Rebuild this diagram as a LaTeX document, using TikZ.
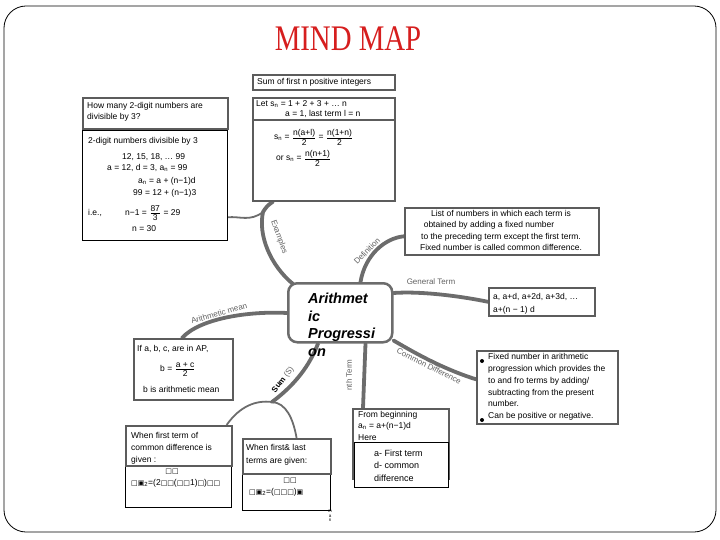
\documentclass[tikz,border=0pt]{standalone}
\usepackage{amsmath}
\usepackage{fontspec}
\setmainfont{Liberation Sans}
\newfontfamily\ttlfont{Liberation Serif}
\newfontfamily\symfnt{DejaVu Sans}
\usetikzlibrary{backgrounds}
\definecolor{brgray}{RGB}{108,108,108}
\definecolor{bxgray}{RGB}{92,92,92}
\definecolor{ttlred}{RGB}{214,30,30}
\newcommand{\myfr}[2]{\ensuremath{\genfrac{}{}{0.8pt}{}{\mbox{#1}}{\mbox{#2}}}}
\newcommand{\tf}[1]{{\symfnt\fontsize{7}{8}\selectfont #1}}
\begin{document}
\begin{tikzpicture}[x=1pt,y=-1pt,
 gbox/.style={draw=bxgray,line width=1.6pt,fill=white,inner sep=0,anchor=north west},
 bbox/.style={draw=black,line width=0.6pt,fill=white,inner sep=0,anchor=north west},
 tx/.style={font=\fontsize{8.5}{10}\selectfont,inner sep=0,anchor=base west},
 txc/.style={tx,anchor=base},
 branch/.style={draw=brgray,line width=3.8pt,line cap=round},
 twig/.style={draw=brgray,line width=1.8pt},
 blab/.style={font=\fontsize{8}{9}\selectfont,text=black!62,inner sep=0}]

\useasboundingbox (0,0) rectangle (720,540);

% title
\node[font=\ttlfont\fontsize{36}{36}\selectfont,text=ttlred,xscale=0.8,inner sep=0] (title) at (348,39) {MIND MAP};

% top boxes
\node[gbox,minimum width=142pt,minimum height=15pt] (sumbox) at (252,74) {};
\node[tx] (sumt) at (257,85) {Sum of first n positive integers};

\node[gbox,minimum width=142pt,minimum height=81pt] (letbox2) at (252,119) {};
\node[gbox,minimum width=142pt,minimum height=22pt] (letbox) at (252,97) {};
\node[tx] (let1) at (256,107) {Let s\textsubscript{n} = 1 + 2 + 3 + … n};
\node[tx] (let2) at (285,117) {a = 1, last term l = n};
\node[tx] (let3) at (274,140) {s\textsubscript{n} = \myfr{n(a+l)}{2} = \myfr{n(1+n)}{2}};
\node[tx] (let4) at (276,161) {or s\textsubscript{n} = \myfr{n(n+1)}{2}};

% left boxes
\node[bbox,minimum width=145pt,minimum height=110pt] (digbox) at (82,130) {};
\node[gbox,minimum width=145pt,minimum height=31pt] (howbox) at (82,97) {};
\node[tx] (how1) at (87,109) {How many 2-digit numbers are};
\node[tx] (how2) at (87,120) {divisible by 3?};
\node[tx] (dig1) at (88,144) {2-digit numbers divisible by 3};
\node[tx] (dig2) at (122,160) {12, 15, 18, … 99};
\node[tx] (dig3) at (107,171) {a = 12, d = 3, a\textsubscript{n} = 99};
\node[tx] (dig4) at (138,184) {a\textsubscript{n} = a + (n−1)d};
\node[tx] (dig5) at (133,196) {99 = 12 + (n−1)3};
\node[tx] (dig6) at (88,215) {i.e.,};
\node[tx] (dig7) at (125,215) {n−1 = \myfr{87}{3} = 29};
\node[tx] (dig8) at (132,231) {n = 30};

% definition
\node[gbox,minimum width=194pt,minimum height=47pt] (defbox) at (404,207) {};
\node[txc] (def1) at (501,216) {List of numbers in which each term is};
\node[txc] (def2) at (489,228) {obtained by adding a fixed number};
\node[txc] (def3) at (501,240) {to the preceding term except the first term.};
\node[txc] (def4) at (501,251) {Fixed number is called common difference.};

% general term
\node[gbox,minimum width=106pt,minimum height=28pt] (gtbox) at (488,287) {};
\node[tx] (gt1) at (493,299) {a, a+d, a+2d, a+3d, …};
\node[tx] (gt2) at (493,312) {a+(n − 1) d};

% common difference
\node[gbox,minimum width=141pt,minimum height=73pt] (cdbox) at (476,350) {};
\node[tx] (cd1) at (488,359) {Fixed number in arithmetic};
\node[tx] (cd2) at (488,371) {progression which provides the};
\node[tx] (cd3) at (488,383) {to and fro terms by adding/};
\node[tx] (cd4) at (488,395) {subtracting from the present};
\node[tx] (cd5) at (488,406) {number.};
\node[tx] (cd6) at (488,418) {Can be positive or negative.};
\fill (482,361) circle (2);
\fill (482,420) circle (2);

% arithmetic mean box
\node[gbox,minimum width=99pt,minimum height=61pt] (ambox) at (133,338) {};
\node[tx] (am1) at (137,351) {If a, b, c, are in AP,};
\node[tx] (am2) at (160,371) {b = \myfr{a + c}{2}};
\node[tx] (am3) at (143,392) {b is arithmetic mean};

% sum boxes
\node[bbox,minimum width=106pt,minimum height=42pt] (w1f) at (125,465) {};
\node[gbox,minimum width=106pt,minimum height=40pt] (w1box) at (125,425) {};
\node[tx] (w11) at (131,438) {When first term of};
\node[tx] (w12) at (131,450) {common difference is};
\node[tx] (w13) at (131,462) {given :};
\node[txc] (w14) at (172,473) {\tf{□□}};
\node[tx] (w15) at (131,485) {\tf{□▣}\textsubscript{2}=(2\tf{□□}(\tf{□□}1)\tf{□})\tf{□□}};

\node[bbox,minimum width=88pt,minimum height=37pt] (w2f) at (242,473) {};
\node[gbox,minimum width=88pt,minimum height=35pt] (w2box) at (242,438) {};
\node[tx] (w21) at (246,450) {When first\& last};
\node[tx] (w22) at (246,463) {terms are given:};
\node[txc] (w23) at (290,482) {\tf{□□}};
\node[tx] (w24) at (249,494) {\tf{□▣}\textsubscript{2}=(\tf{□□□})\tf{▣}};

\node[gbox,minimum width=96pt,minimum height=70pt] (fbbox) at (352,408) {};
\node[bbox,minimum width=94pt,minimum height=45pt] (fbf) at (354,442) {};
\node[tx] (fb1) at (358,417) {From beginning};
\node[tx] (fb2) at (358,428) {a\textsubscript{n} = a+(n−1)d};
\node[tx] (fb3) at (358,440) {Here};
\node[tx,font=\fontsize{9}{10}\selectfont] (fb4) at (374,456) {a- First term};
\node[tx,font=\fontsize{9}{10}\selectfont] (fb5) at (374,468) {d- common};
\node[tx,font=\fontsize{9}{10}\selectfont] (fb6) at (374,481) {difference};

\node[font=\fontsize{4.5}{4.5}\selectfont,align=center,inner sep=0] (man) at (330,516) {m\\a\\n};

% central node
\node[draw=brgray,fill=white,line width=2.5pt,rounded corners=9pt,minimum width=104pt,minimum height=59pt,anchor=north west,inner sep=0] (ap) at (287,282) {};
\node[anchor=north west,font=\fontsize{14.5}{17.5}\selectfont\bfseries\itshape,align=left,inner sep=0] (apt) at (308,293) {Arithmet\\ic\\Progressi\\on};

% branches
\begin{scope}[on background layer]
\draw[line width=0.8pt,rounded corners=22pt] (4,6) rectangle (716,532);
\coordinate (jx) at (263,212);
\coordinate (js) at (272,402);
\draw[branch] ([xshift=6pt,yshift=-2pt]ap.north west) .. controls (270,265) and (258,235) .. (jx);
\draw[branch] (jx) .. controls (267,206) .. ([xshift=21pt]letbox2.south west);
\draw[twig] (jx) .. controls (250,222) and (240,216) .. ([yshift=-32pt]digbox.east);
\draw[branch] ([xshift=-33pt]ap.north east) .. controls (365,255) and (385,238) .. ([yshift=-5pt]defbox.west);
\draw[branch] ([yshift=-11pt]ap.north east) .. controls (420,291) and (460,296) .. (gtbox.west);
\draw[branch] ([yshift=3pt]ap.south east) .. controls (410,350) and (440,368) .. ([yshift=8pt]cdbox.west);
\draw[branch] ([xshift=-28pt]ap.south east) -- ([xshift=11pt]fbbox.north west);
\draw[branch] ([xshift=31pt]ap.south west) .. controls (310,365) and (295,385) .. (js);
\draw[twig] ([xshift=-6pt]w1box.north east) .. controls (240,406) and (256,400) .. (js)
  .. controls (286,403) and (293,418) .. ([xshift=-35pt]w2box.north east);
\draw[branch] ([yshift=-31pt]ap.north west) .. controls (250,311) and (200,318) .. ([xshift=49pt]ambox.north west);
\end{scope}

% branch labels
\node[blab,rotate=-70] (lex) at (279,237) {Examples};
\node[blab,rotate=46] (ldef) at (367,251) {Definition};
\node[blab] (lgt) at (431,282) {General Term};
\node[blab,rotate=-27] (lcd) at (429,366) {Common Difference};
\node[blab,rotate=16] (lam) at (219,313) {Arithmetic mean};
\node[blab,rotate=90] (lnt) at (349,375) {nth Term};
\node[blab,rotate=52] (lsum) at (283,380) {\textbf{\textcolor{black}{Sum}} (S)};
\end{tikzpicture}
\end{document}
